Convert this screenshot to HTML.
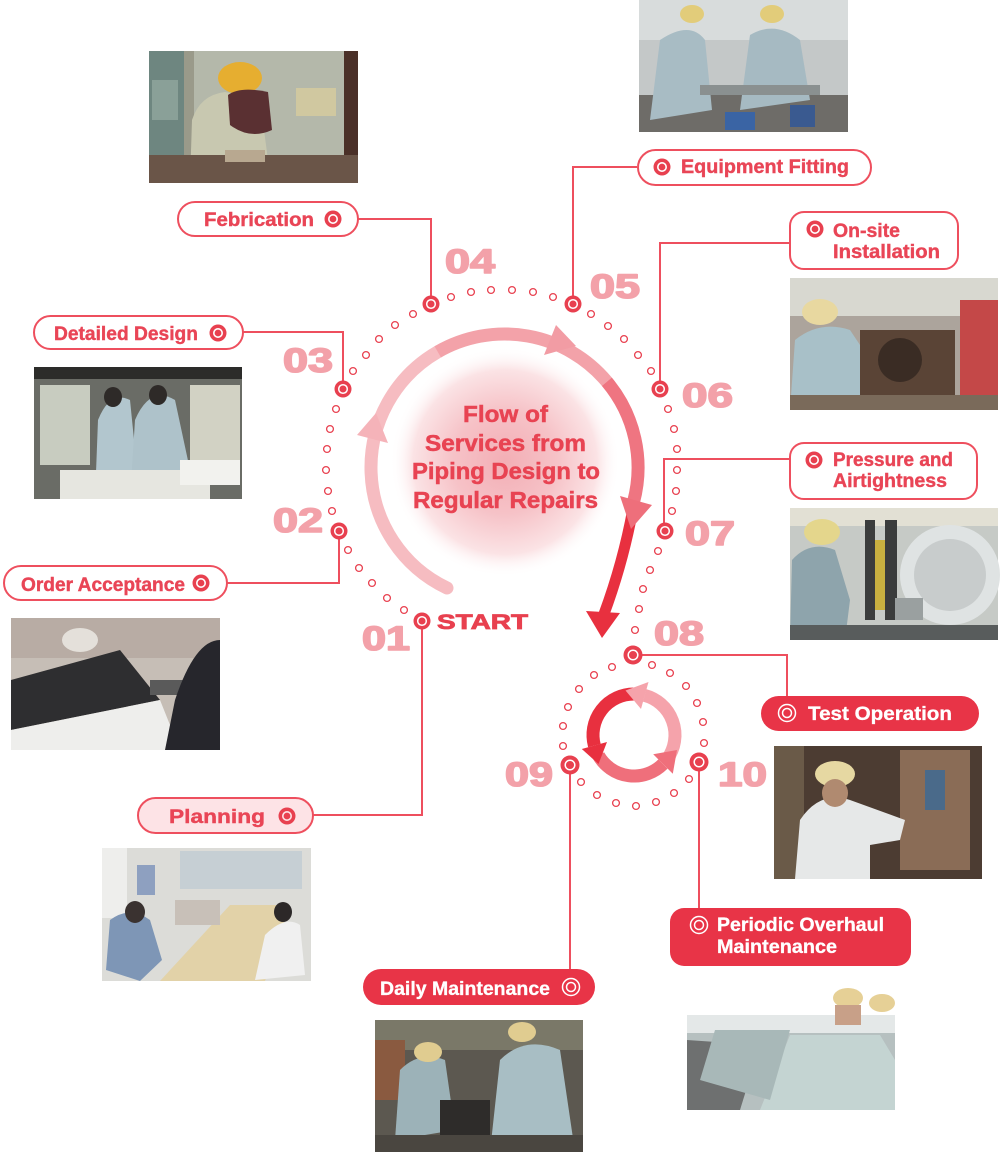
<!DOCTYPE html>
<html><head><meta charset="utf-8"><style>
html,body{margin:0;padding:0;background:#fff;}
svg{display:block;}
text{font-family:"Liberation Sans",sans-serif;font-weight:bold;}
</style></head><body>
<svg width="1001" height="1157" viewBox="0 0 1001 1157" xmlns="http://www.w3.org/2000/svg">
<defs>
<radialGradient id="glow" cx="505" cy="462" r="115" gradientUnits="userSpaceOnUse">
<stop offset="0" stop-color="#f3aeb5"/>
<stop offset="0.45" stop-color="#f6c2c7"/>
<stop offset="0.8" stop-color="#fbe3e5"/>
<stop offset="1" stop-color="#ffffff" stop-opacity="0"/>
</radialGradient>
</defs>
<rect width="1001" height="1157" fill="#fff"/>

<!-- PHOTOS -->
<g>
<rect x="149" y="51" width="209" height="132" fill="#b4b8aa"/>
<rect x="149" y="51" width="35" height="132" fill="#6e8680"/>
<rect x="152" y="80" width="26" height="40" fill="#8aa098"/>
<rect x="184" y="51" width="10" height="132" fill="#9a9a8a"/>
<rect x="344" y="51" width="14" height="132" fill="#4a3028"/>
<rect x="296" y="88" width="40" height="28" fill="#d0c8a0"/>
<path d="M190 183 L192 120 Q200 95 225 92 L260 100 L268 160 L240 183 Z" fill="#c8c8b0"/>
<ellipse cx="240" cy="78" rx="22" ry="16" fill="#e6ae30"/>
<path d="M228 95 Q240 86 268 92 L272 130 Q250 140 230 125 Z" fill="#5a3032"/>
<rect x="149" y="155" width="209" height="28" fill="#6a5548"/>
<rect x="225" y="150" width="40" height="12" fill="#b8a890"/>
</g>
<g>
<rect x="639" y="0" width="209" height="132" fill="#c4c8c8"/>
<rect x="639" y="0" width="209" height="40" fill="#d8dcdc"/>
<rect x="639" y="95" width="209" height="37" fill="#6e6c68"/>
<path d="M650 120 L660 40 Q690 20 705 40 L712 110 Z" fill="#a8bcc4"/>
<path d="M740 110 L750 35 Q775 20 800 40 L810 100 Z" fill="#a6bac2"/>
<ellipse cx="692" cy="14" rx="12" ry="9" fill="#e2cc7a"/>
<ellipse cx="772" cy="14" rx="12" ry="9" fill="#e2cc7a"/>
<rect x="700" y="85" width="120" height="10" fill="#8a9090"/>
<rect x="725" y="112" width="30" height="18" fill="#3a64a4"/>
<rect x="790" y="105" width="25" height="22" fill="#3a5a90"/>
</g>
<g>
<rect x="34" y="367" width="208" height="132" fill="#6a6c66"/>
<rect x="34" y="367" width="208" height="12" fill="#2c2c2a"/>
<rect x="40" y="385" width="50" height="80" fill="#c8ccc0"/>
<rect x="190" y="385" width="50" height="80" fill="#d2d2c4"/>
<path d="M95 499 L98 420 Q110 390 130 400 L140 499 Z" fill="#b2c6ce"/>
<path d="M130 499 L135 420 Q150 385 175 400 L190 470 L185 499 Z" fill="#aec2ca"/>
<ellipse cx="113" cy="397" rx="9" ry="10" fill="#2e2a28"/>
<ellipse cx="158" cy="395" rx="9" ry="10" fill="#2e2a28"/>
<rect x="60" y="470" width="150" height="29" fill="#e6e6e0"/>
<rect x="180" y="460" width="60" height="25" fill="#f2f2ee"/>
</g>
<g>
<rect x="790" y="278" width="208" height="132" fill="#aca49c"/>
<rect x="790" y="278" width="208" height="38" fill="#d8d8d0"/>
<rect x="960" y="300" width="38" height="110" fill="#c44848"/>
<path d="M790 410 L795 340 Q820 320 850 330 L870 360 L860 410 Z" fill="#a8c0c8"/>
<ellipse cx="820" cy="312" rx="18" ry="13" fill="#e8d8a0"/>
<rect x="860" y="330" width="95" height="70" fill="#5a4436"/>
<circle cx="900" cy="360" r="22" fill="#3a2c24"/>
<rect x="790" y="395" width="208" height="15" fill="#7a6a5a"/>
</g>
<g>
<rect x="11" y="618" width="209" height="132" fill="#c6beb6"/>
<rect x="11" y="618" width="209" height="40" fill="#b8aca4"/>
<path d="M11 680 L120 650 L160 700 L11 730 Z" fill="#2e2e30"/>
<path d="M11 730 L160 700 L180 750 L11 750 Z" fill="#eeeeec"/>
<rect x="150" y="680" width="45" height="15" fill="#5a5a5a"/>
<path d="M165 750 L175 700 Q195 640 220 640 L220 750 Z" fill="#26262c"/>
<ellipse cx="80" cy="640" rx="18" ry="12" fill="#e4e0da"/>
</g>
<g>
<rect x="790" y="508" width="208" height="132" fill="#c6cac6"/>
<rect x="790" y="508" width="208" height="18" fill="#e2e0d4"/>
<path d="M790 640 L792 560 Q810 540 835 550 L850 600 L845 640 Z" fill="#8ea4ac"/>
<ellipse cx="822" cy="532" rx="18" ry="13" fill="#e4d68c"/>
<rect x="865" y="520" width="10" height="100" fill="#3a3c3c"/>
<rect x="885" y="520" width="12" height="100" fill="#3a3c3c"/>
<rect x="875" y="540" width="10" height="70" fill="#c8b040"/>
<circle cx="950" cy="575" r="50" fill="#dfe3e3"/>
<circle cx="950" cy="575" r="36" fill="#c8cccc"/>
<rect x="895" y="598" width="28" height="22" fill="#9aa0a0"/>
<rect x="790" y="625" width="208" height="15" fill="#585c5c"/>
</g>
<g>
<rect x="774" y="746" width="208" height="133" fill="#4c3c32"/>
<rect x="774" y="746" width="30" height="133" fill="#6a5a48"/>
<rect x="900" y="750" width="70" height="120" fill="#8a6c56"/>
<rect x="925" y="770" width="20" height="40" fill="#4a6a8a"/>
<path d="M795 879 L800 820 Q820 790 850 800 L905 820 L900 840 L870 845 L870 879 Z" fill="#e6e8e8"/>
<ellipse cx="835" cy="774" rx="20" ry="13" fill="#e6d8a2"/>
<ellipse cx="835" cy="793" rx="13" ry="14" fill="#b08a70"/>
</g>
<g>
<rect x="102" y="848" width="209" height="133" fill="#dcdcd8"/>
<rect x="180" y="851" width="122" height="38" fill="#c6cfd4"/>
<rect x="102" y="848" width="25" height="70" fill="#eeeeec"/>
<path d="M160 981 L230 905 L290 905 L265 981 Z" fill="#e2d2a8"/>
<path d="M106 970 L110 920 Q130 905 150 920 L162 960 L140 981 Z" fill="#7e96b6"/>
<ellipse cx="135" cy="912" rx="10" ry="11" fill="#3a3230"/>
<path d="M255 980 L265 935 Q285 915 300 925 L305 975 Z" fill="#f0f0f0"/>
<ellipse cx="283" cy="912" rx="9" ry="10" fill="#2c2828"/>
<rect x="175" y="900" width="45" height="25" fill="#c8c0b8"/>
<rect x="137" y="865" width="18" height="30" fill="#8ea0c0"/>
</g>
<g>
<rect x="687" y="1015" width="208" height="95" fill="#b6c0c0"/>
<rect x="687" y="1015" width="208" height="18" fill="#e4e8e8"/>
<path d="M687 1040 L760 1045 L740 1110 L687 1110 Z" fill="#6e7070"/>
<path d="M760 1110 L790 1035 L880 1035 L895 1060 L895 1110 Z" fill="#c4d4d2"/>
<path d="M700 1080 L715 1030 L790 1030 L770 1100 Z" fill="#a8b8b8"/>
<ellipse cx="848" cy="998" rx="15" ry="10" fill="#e6d096"/>
<ellipse cx="882" cy="1003" rx="13" ry="9" fill="#e6d096"/>
<rect x="835" y="1005" width="26" height="20" fill="#c8a088"/>
</g>
<g>
<rect x="375" y="1020" width="208" height="132" fill="#5c5850"/>
<rect x="375" y="1020" width="208" height="30" fill="#7a7868"/>
<rect x="375" y="1040" width="30" height="60" fill="#8a5a40"/>
<path d="M395 1140 L400 1070 Q420 1050 445 1060 L455 1130 Z" fill="#9cb2b8"/>
<path d="M490 1152 L500 1060 Q525 1035 560 1050 L575 1152 Z" fill="#a8bec4"/>
<ellipse cx="428" cy="1052" rx="14" ry="10" fill="#e0cc90"/>
<ellipse cx="522" cy="1032" rx="14" ry="10" fill="#e0cc90"/>
<rect x="440" y="1100" width="50" height="35" fill="#2e2c2a"/>
<rect x="375" y="1135" width="208" height="17" fill="#4a4640"/>
</g>

<!-- CENTER GLOW -->
<circle cx="505" cy="462" r="115" fill="url(#glow)"/>

<!-- CONNECTORS -->
<g fill="none" stroke="#ee4f5e" stroke-width="2">
<path d="M358 219 H431 V304"/>
<path d="M243 332 H343 V389"/>
<path d="M227 583 H339 V531"/>
<path d="M313 815 H422 V621"/>
<path d="M637 167 H573 V304"/>
<path d="M789 243 H660 V389"/>
<path d="M789 459 H664 V530"/>
<path d="M633 655 H787 V696"/>
<path d="M570 765 V969"/>
<path d="M699 762 V908"/>
</g>

<!-- BIG ARC -->
<g fill="none" stroke-width="13">
<path d="M447 588 A133.5 133.5 0 0 1 437.75 351.9" stroke="#f6bcc1" stroke-linecap="round"/>
<path d="M437.75 351.9 A133.5 133.5 0 0 1 606.8 381.7" stroke="#f3a2a9"/>
<path d="M606.8 381.7 A133.5 133.5 0 0 1 633.5 502.1" stroke="#ef7581"/>
</g>
<path d="M634 503 Q624 560 604 614" fill="none" stroke="#e8303f" stroke-width="11"/>
<polygon points="586,611 620,613 602,638" fill="#e8303f"/>
<polygon points="357,435 388,443 376,413" fill="#f5b3b9"/>
<polygon points="556,325 544,355 576,346" fill="#f29ca4"/>
<polygon points="620,496 652,505 631,529" fill="#ee6f7b"/>

<!-- SMALL CYCLE -->
<g fill="none" stroke-width="13">
<path d="M667.6 758.5 A41 41 0 0 0 644.6 695.4" stroke="#f5a3ab"/>
<path d="M598.5 755.5 A41 41 0 0 0 663 764" stroke="#ef6f7b"/>
<path d="M634 694 A41 41 0 0 0 594.4 745.6" stroke="#e8303f"/>
</g>
<polygon points="648.5,682 641,709 625.5,690.5" fill="#f5a3ab"/>
<polygon points="672.8,773.8 653.2,754.2 677,750" fill="#ef6f7b"/>
<polygon points="581.8,749 607,742 598.5,764" fill="#e8303f"/>

<!-- SMALL DOTS -->
<g fill="#fff" stroke="#e8404f" stroke-width="1.3">
<circle cx="404" cy="610" r="3.4"/><circle cx="387" cy="598" r="3.4"/><circle cx="372" cy="583" r="3.4"/><circle cx="359" cy="568" r="3.4"/><circle cx="348" cy="550" r="3.4"/>
<circle cx="332" cy="511" r="3.4"/><circle cx="328" cy="491" r="3.4"/><circle cx="326" cy="470" r="3.4"/><circle cx="327" cy="449" r="3.4"/><circle cx="330" cy="429" r="3.4"/><circle cx="336" cy="409" r="3.4"/>
<circle cx="353" cy="371" r="3.4"/><circle cx="366" cy="355" r="3.4"/><circle cx="379" cy="339" r="3.4"/><circle cx="395" cy="325" r="3.4"/><circle cx="413" cy="314" r="3.4"/>
<circle cx="451" cy="297" r="3.4"/><circle cx="471" cy="292" r="3.4"/><circle cx="491" cy="290" r="3.4"/><circle cx="512" cy="290" r="3.4"/><circle cx="533" cy="292" r="3.4"/><circle cx="553" cy="297" r="3.4"/>
<circle cx="591" cy="314" r="3.4"/><circle cx="608" cy="326" r="3.4"/><circle cx="624" cy="339" r="3.4"/><circle cx="638" cy="355" r="3.4"/><circle cx="651" cy="371" r="3.4"/>
<circle cx="668" cy="409" r="3.4"/><circle cx="674" cy="429" r="3.4"/><circle cx="677" cy="449" r="3.4"/><circle cx="677" cy="470" r="3.4"/><circle cx="676" cy="491" r="3.4"/><circle cx="672" cy="511" r="3.4"/>
<circle cx="658" cy="551" r="3.4"/><circle cx="650" cy="570" r="3.4"/><circle cx="643" cy="589" r="3.4"/><circle cx="639" cy="609" r="3.4"/><circle cx="635" cy="630" r="3.4"/>
<circle cx="652" cy="665" r="3.4"/><circle cx="670" cy="673" r="3.4"/><circle cx="686" cy="686" r="3.4"/><circle cx="697" cy="703" r="3.4"/><circle cx="703" cy="722" r="3.4"/><circle cx="704" cy="743" r="3.4"/>
<circle cx="689" cy="779" r="3.4"/><circle cx="674" cy="793" r="3.4"/><circle cx="656" cy="802" r="3.4"/><circle cx="636" cy="806" r="3.4"/><circle cx="616" cy="803" r="3.4"/><circle cx="597" cy="795" r="3.4"/><circle cx="581" cy="782" r="3.4"/>
<circle cx="563" cy="746" r="3.4"/><circle cx="563" cy="726" r="3.4"/><circle cx="568" cy="707" r="3.4"/><circle cx="579" cy="689" r="3.4"/><circle cx="594" cy="675" r="3.4"/><circle cx="612" cy="667" r="3.4"/>
</g>

<!-- NODES -->
<g>
<g transform="translate(422,621)"><circle r="8.5" fill="#e8404f"/><circle r="4.3" fill="none" stroke="#fff" stroke-width="1.5"/></g>
<g transform="translate(339,531)"><circle r="8.5" fill="#e8404f"/><circle r="4.3" fill="none" stroke="#fff" stroke-width="1.5"/></g>
<g transform="translate(343,389)"><circle r="8.5" fill="#e8404f"/><circle r="4.3" fill="none" stroke="#fff" stroke-width="1.5"/></g>
<g transform="translate(431,304)"><circle r="8.5" fill="#e8404f"/><circle r="4.3" fill="none" stroke="#fff" stroke-width="1.5"/></g>
<g transform="translate(573,304)"><circle r="8.5" fill="#e8404f"/><circle r="4.3" fill="none" stroke="#fff" stroke-width="1.5"/></g>
<g transform="translate(660,389)"><circle r="8.5" fill="#e8404f"/><circle r="4.3" fill="none" stroke="#fff" stroke-width="1.5"/></g>
<g transform="translate(665,531)"><circle r="8.5" fill="#e8404f"/><circle r="4.3" fill="none" stroke="#fff" stroke-width="1.5"/></g>
<g transform="translate(633,655)"><circle r="9.5" fill="#e8404f"/><circle r="4.8" fill="none" stroke="#fff" stroke-width="1.5"/></g>
<g transform="translate(570,765)"><circle r="9.5" fill="#e8404f"/><circle r="4.8" fill="none" stroke="#fff" stroke-width="1.5"/></g>
<g transform="translate(699,762)"><circle r="9.5" fill="#e8404f"/><circle r="4.8" fill="none" stroke="#fff" stroke-width="1.5"/></g>
</g>

<!-- NUMBERS -->
<g fill="#f3a1a9" stroke="#f3a1a9" stroke-width="1.6" stroke-linejoin="round" font-size="34">
<text x="445" y="273" textLength="50" lengthAdjust="spacingAndGlyphs">04</text>
<text x="590" y="298" textLength="50" lengthAdjust="spacingAndGlyphs">05</text>
<text x="283" y="372" textLength="50" lengthAdjust="spacingAndGlyphs">03</text>
<text x="682" y="407" textLength="51" lengthAdjust="spacingAndGlyphs">06</text>
<text x="273" y="532" textLength="50" lengthAdjust="spacingAndGlyphs">02</text>
<text x="685" y="545" textLength="50" lengthAdjust="spacingAndGlyphs">07</text>
<text x="362" y="650" textLength="48" lengthAdjust="spacingAndGlyphs">01</text>
<text x="654" y="645" textLength="50" lengthAdjust="spacingAndGlyphs">08</text>
<text x="505" y="786" textLength="48" lengthAdjust="spacingAndGlyphs">09</text>
<text x="718" y="786" textLength="49" lengthAdjust="spacingAndGlyphs">10</text>
</g>
<text x="437" y="629" font-size="21" fill="#e8404f" stroke="#e8404f" stroke-width="0.8" textLength="91" lengthAdjust="spacingAndGlyphs">START</text>

<!-- CENTER TEXT -->
<g fill="#e84352" stroke="#e84352" stroke-width="0.5" font-size="23">
<text x="463" y="422" textLength="85" lengthAdjust="spacingAndGlyphs">Flow of</text>
<text x="425" y="451" textLength="161" lengthAdjust="spacingAndGlyphs">Services from</text>
<text x="412" y="479" textLength="188" lengthAdjust="spacingAndGlyphs">Piping Design to</text>
<text x="413" y="508" textLength="185" lengthAdjust="spacingAndGlyphs">Regular Repairs</text>
</g>

<!-- OUTLINE LABELS -->
<g fill="#fff" stroke="#ee4f5e" stroke-width="2">
<rect x="178" y="202" width="180" height="34" rx="17"/>
<rect x="34" y="316" width="209" height="33" rx="16.5"/>
<rect x="4" y="566" width="223" height="34" rx="17"/>
<rect x="138" y="798" width="175" height="35" rx="17.5" fill="#fde3e6"/>
<rect x="638" y="150" width="233" height="35" rx="17.5"/>
<rect x="790" y="212" width="168" height="57" rx="14"/>
<rect x="790" y="443" width="187" height="56" rx="14"/>
</g>
<g fill="#e94556" stroke="#e94556" stroke-width="0.4" font-size="19">
<text x="204" y="226" textLength="110" lengthAdjust="spacingAndGlyphs">Febrication</text>
<text x="54" y="340" textLength="144" lengthAdjust="spacingAndGlyphs">Detailed Design</text>
<text x="21" y="591" textLength="164" lengthAdjust="spacingAndGlyphs">Order Acceptance</text>
<text x="169" y="823" textLength="96" lengthAdjust="spacingAndGlyphs">Planning</text>
<text x="681" y="173" textLength="168" lengthAdjust="spacingAndGlyphs">Equipment Fitting</text>
<text x="833" y="237" textLength="67" lengthAdjust="spacingAndGlyphs">On-site</text>
<text x="833" y="258" textLength="107" lengthAdjust="spacingAndGlyphs">Installation</text>
<text x="833" y="466" textLength="120" lengthAdjust="spacingAndGlyphs">Pressure and</text>
<text x="833" y="487" textLength="114" lengthAdjust="spacingAndGlyphs">Airtightness</text>
</g>
<g>
<g transform="translate(333,219)"><circle r="8.5" fill="#e8404f"/><circle r="4.2" fill="none" stroke="#fff" stroke-width="1.6"/></g>
<g transform="translate(218,333)"><circle r="8.5" fill="#e8404f"/><circle r="4.2" fill="none" stroke="#fff" stroke-width="1.6"/></g>
<g transform="translate(201,583)"><circle r="8.5" fill="#e8404f"/><circle r="4.2" fill="none" stroke="#fff" stroke-width="1.6"/></g>
<g transform="translate(287,816)"><circle r="8.5" fill="#e8404f"/><circle r="4.2" fill="none" stroke="#fde3e6" stroke-width="1.6"/></g>
<g transform="translate(662,167)"><circle r="8.5" fill="#e8404f"/><circle r="4.2" fill="none" stroke="#fff" stroke-width="1.6"/></g>
<g transform="translate(815,229)"><circle r="8.5" fill="#e8404f"/><circle r="4.2" fill="none" stroke="#fff" stroke-width="1.6"/></g>
<g transform="translate(814,460)"><circle r="8.5" fill="#e8404f"/><circle r="4.2" fill="none" stroke="#fff" stroke-width="1.6"/></g>
</g>

<!-- FILLED LABELS -->
<g fill="#e83447">
<rect x="761" y="696" width="218" height="35" rx="17.5"/>
<rect x="670" y="908" width="241" height="58" rx="14"/>
<rect x="363" y="969" width="232" height="36" rx="18"/>
</g>
<g fill="#fff" stroke="#fff" stroke-width="0.3" font-size="19">
<text x="808" y="720" textLength="144" lengthAdjust="spacingAndGlyphs">Test Operation</text>
<text x="717" y="931" textLength="167" lengthAdjust="spacingAndGlyphs">Periodic Overhaul</text>
<text x="717" y="953" textLength="120" lengthAdjust="spacingAndGlyphs">Maintenance</text>
<text x="380" y="995" textLength="170" lengthAdjust="spacingAndGlyphs">Daily Maintenance</text>
</g>
<g fill="none" stroke="#fff" stroke-width="1.5">
<circle cx="787" cy="713" r="8.5"/><circle cx="787" cy="713" r="4.5"/>
<circle cx="699" cy="925" r="8.5"/><circle cx="699" cy="925" r="4.5"/>
<circle cx="571" cy="987" r="8.5"/><circle cx="571" cy="987" r="4.5"/>
</g>
</svg>
</body></html>
